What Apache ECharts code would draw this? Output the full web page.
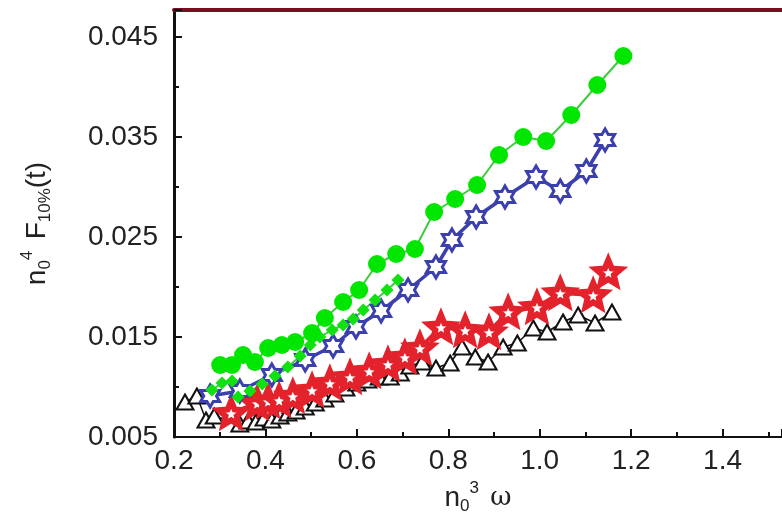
<!DOCTYPE html>
<html>
<head>
<meta charset="utf-8">
<script src="https://cdn.jsdelivr.net/npm/echarts@6/dist/echarts.min.js"></script>
<style>
  html, body { margin: 0; padding: 0; background: #fff; }
  #chart { width: 782px; height: 521px; }
</style>
</head>
<body>
<div id="chart"></div>
<script>
// data: [n0^3 omega, n0^4 F10%(t)]
var greenCircles = [
    [0.301, 0.0122], [0.327, 0.0122], [0.351, 0.0132], [0.377, 0.0125], [0.406, 0.0139],
    [0.436, 0.0142], [0.465, 0.0145], [0.502, 0.0154], [0.530, 0.0169], [0.570, 0.0185],
    [0.605, 0.0197], [0.644, 0.0223], [0.686, 0.0233], [0.727, 0.0238], [0.769, 0.0275],
    [0.815, 0.0288], [0.863, 0.0302], [0.911, 0.0332], [0.964, 0.0350], [1.014, 0.0346],
    [1.069, 0.0372], [1.126, 0.0402], [1.183, 0.0431]
];
var greenDiamonds = [
    [0.283, 0.0097], [0.305, 0.0104], [0.327, 0.0106], [0.340, 0.0090], [0.366, 0.0096],
    [0.393, 0.0103], [0.421, 0.0111], [0.449, 0.0120], [0.476, 0.0131], [0.498, 0.0142],
    [0.519, 0.0150], [0.546, 0.0157], [0.570, 0.0162], [0.592, 0.0168], [0.614, 0.0177],
    [0.640, 0.0187], [0.666, 0.0197], [0.690, 0.0207]
];
var blueStars = [
    [0.279, 0.0091], [0.344, 0.0096], [0.414, 0.0112], [0.487, 0.0127], [0.548, 0.0141],
    [0.598, 0.0160], [0.653, 0.0176], [0.712, 0.0197], [0.773, 0.0220], [0.808, 0.0247],
    [0.861, 0.0270], [0.924, 0.0290], [0.992, 0.0310], [1.045, 0.0296], [1.102, 0.0316],
    [1.143, 0.0347]
];
var redStars = [
    [0.325, 0.0074], [0.382, 0.0084], [0.406, 0.0086], [0.430, 0.0087], [0.460, 0.0091],
    [0.502, 0.0097], [0.541, 0.0104], [0.585, 0.0110], [0.627, 0.0116], [0.668, 0.0123],
    [0.705, 0.0130], [0.738, 0.0139], [0.784, 0.0160], [0.837, 0.0157], [0.889, 0.0155],
    [0.931, 0.0175], [0.994, 0.0180], [1.045, 0.0194], [1.117, 0.0192], [1.150, 0.0215]
];
var blackTriangles = [
    [0.224, 0.0085], [0.250, 0.0091], [0.270, 0.0067], [0.288, 0.0071], [0.344, 0.0063],
    [0.362, 0.0066], [0.379, 0.0065], [0.397, 0.0069], [0.414, 0.0067], [0.432, 0.0071],
    [0.449, 0.0074], [0.467, 0.0076], [0.487, 0.0080], [0.509, 0.0084], [0.530, 0.0088],
    [0.552, 0.0093], [0.576, 0.0099], [0.600, 0.0104], [0.624, 0.0107], [0.649, 0.0110],
    [0.673, 0.0110], [0.695, 0.0114], [0.716, 0.0121], [0.743, 0.0125], [0.773, 0.0119],
    [0.804, 0.0124], [0.830, 0.0140], [0.859, 0.0130], [0.887, 0.0125], [0.920, 0.0140],
    [0.951, 0.0144], [0.986, 0.0159], [1.016, 0.0155], [1.051, 0.0165], [1.084, 0.0172],
    [1.121, 0.0164], [1.158, 0.0175]
];

// star outline as an svg path symbol
function starPath(points, inner) {
    var d = '';
    for (var i = 0; i < points * 2; i++) {
        var r = i % 2 ? inner : 1;
        var a = -Math.PI / 2 + i * Math.PI / points;
        d += (i ? 'L' : 'M') + (r * Math.cos(a) * 50 + 50).toFixed(2) + ' ' + (r * Math.sin(a) * 50 + 50).toFixed(2);
    }
    return 'path://' + d + 'Z';
}

var labelFont = { fontFamily: 'Liberation Sans', fontSize: 28, color: '#222' };
var nameRich = {
    n: { fontFamily: 'Liberation Sans', fontSize: 28, color: '#222' },
    f: { fontFamily: 'Liberation Sans', fontSize: 28, color: '#222' },
    w: { fontFamily: 'DejaVu Serif', fontSize: 26, color: '#222' },
    sub: { fontFamily: 'Liberation Sans', fontSize: 17, color: '#222', padding: [16, 0, 0, 0] },
    sup: { fontFamily: 'Liberation Sans', fontSize: 17, color: '#222', padding: [0, 8, 20, 0] }
};

option = {
    animation: false,
    backgroundColor: '#fff',
    grid: { left: 174, top: 10, right: 0, bottom: 84 },
    xAxis: [{
        type: 'value',
        min: 0.2,
        max: 1.53,
        interval: 0.2,
        name: '{n|n}{sub|0}{sup|3} {w|ω}',
        nameLocation: 'middle',
        nameGap: 42,
        nameTextStyle: { rich: nameRich },
        axisLine: { lineStyle: { color: '#111', width: 2 } },
        axisTick: { inside: true, length: 8, lineStyle: { color: '#111', width: 2 } },
        minorTick: { show: true, splitNumber: 2, length: 5, lineStyle: { color: '#111', width: 2 } },
        axisLabel: Object.assign({ margin: 10, showMaxLabel: false, formatter: function (v) { return v.toFixed(1); } }, labelFont),
        splitLine: { show: false }
    }, {
        type: 'value',
        position: 'top',
        min: 0.2,
        max: 1.53,
        axisLine: { show: true, lineStyle: { color: '#7a0f22', width: 4 } },
        axisTick: { show: false },
        axisLabel: { show: false },
        splitLine: { show: false }
    }],
    yAxis: {
        type: 'value',
        min: 0.005,
        max: 0.0477,
        interval: 0.01,
        name: '{n|n}{sub|0}{sup|4} {f|F}{sub|10%}{f|(t)}',
        nameLocation: 'middle',
        nameRotate: 90,
        nameGap: 118,
        nameTextStyle: { rich: nameRich },
        axisLine: { show: true, lineStyle: { color: '#111', width: 3 } },
        axisTick: { inside: true, length: 8, lineStyle: { color: '#111', width: 2 } },
        minorTick: { show: true, splitNumber: 2, length: 5, lineStyle: { color: '#111', width: 2 } },
        axisLabel: Object.assign({ margin: 16, showMaxLabel: false, formatter: function (v) { return v.toFixed(3); } }, labelFont),
        splitLine: { show: false }
    },
    series: [
        {
            name: 'triangles',
            type: 'line',
            data: blackTriangles,
            symbol: 'triangle',
            symbolSize: [17, 15],
            lineStyle: { color: '#111', width: 1.5 },
            itemStyle: { color: '#fff', borderColor: '#111', borderWidth: 2 }
        },
        {
            name: 'red stars',
            type: 'line',
            data: redStars,
            symbol: starPath(5, 0.45),
            symbolSize: 25,
            symbolKeepAspect: true,
            lineStyle: { color: '#e3222c', width: 4 },
            itemStyle: { color: '#fff', borderColor: '#e3222c', borderWidth: 6 }
        },
        {
            name: 'blue stars',
            type: 'line',
            data: blueStars,
            symbol: starPath(6, 0.58),
            symbolSize: 22,
            symbolKeepAspect: true,
            lineStyle: { color: '#3b40ad', width: 3.5 },
            itemStyle: { color: '#fff', borderColor: '#3b40ad', borderWidth: 3 }
        },
        {
            name: 'green diamonds',
            type: 'line',
            data: greenDiamonds,
            symbol: 'diamond',
            symbolSize: 13,
            lineStyle: { color: '#3ccc3c', width: 2 },
            itemStyle: { color: '#11e011' }
        },
        {
            name: 'green circles',
            type: 'line',
            data: greenCircles,
            symbol: 'circle',
            symbolSize: 18,
            lineStyle: { color: '#3ccc3c', width: 2 },
            itemStyle: { color: '#00e600' }
        }
    ]
};
var mychart = echarts.init(document.getElementById('chart'));
mychart.setOption(option);
</script>
</body>
</html>
